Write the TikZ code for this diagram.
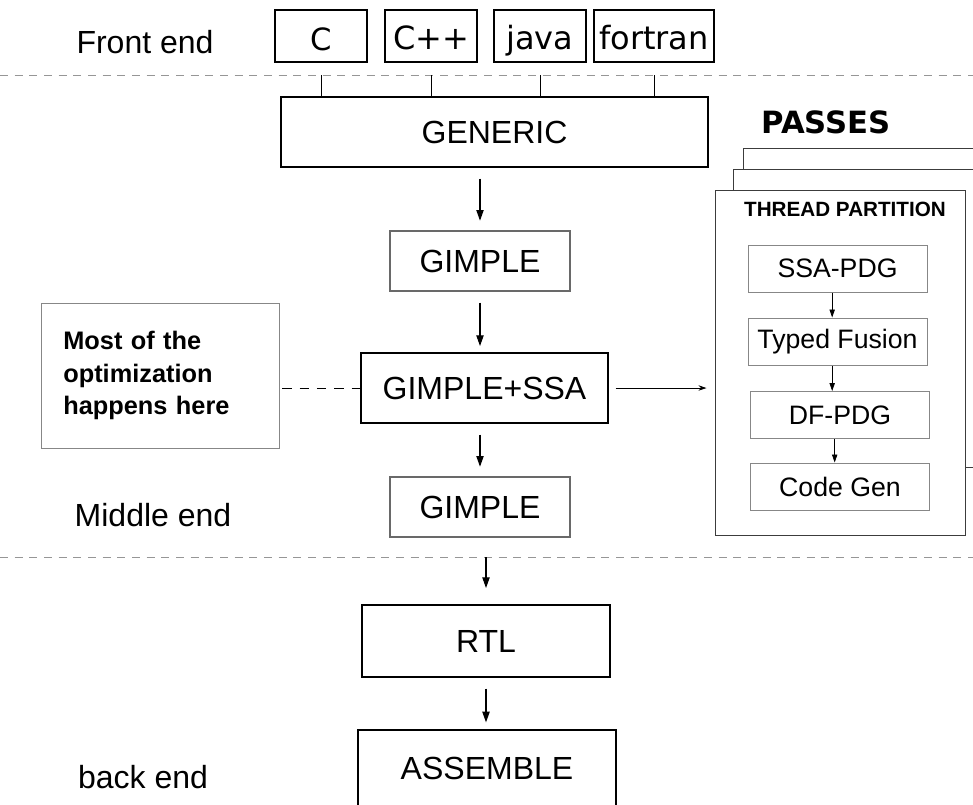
\documentclass[tikz,border=0pt]{standalone}
\usepackage{fontspec}
\setmainfont{Liberation Sans}
\newfontfamily\djvfont{DejaVu Sans}
\usetikzlibrary{arrows.meta,positioning}

\definecolor{sepgray}{RGB}{150,150,150}
\definecolor{boxgray}{RGB}{105,105,105}
\definecolor{notegray}{RGB}{135,135,135}
\definecolor{stackgray}{RGB}{60,60,60}

\tikzset{
  lang/.style={draw, line width=1.5pt, minimum width=69pt, minimum height=39pt,
    inner sep=1pt, text height=20pt, text depth=0pt,
    font=\djvfont\fontsize{24}{28}\selectfont},
  stage/.style={draw, line width=1.5pt, minimum width=#1, minimum height=52.5pt,
    font=\fontsize{24}{28}\selectfont},
  gstage/.style={draw=boxgray, line width=1.5pt, minimum width=135pt, minimum height=45pt,
    font=\fontsize{24}{28}\selectfont},
  note/.style={draw=notegray, line width=0.75pt, minimum width=178.5pt, minimum height=108.75pt,
    text width=145pt, align=left, inner xsep=16.5pt,
    font=\bfseries\fontsize{19}{24.5}\selectfont},
  phase/.style={draw=notegray, line width=0.75pt, minimum width=134.25pt, minimum height=35.25pt,
    font=\fontsize{20}{24}\selectfont},
  endlabel/.style={font=\fontsize{24}{28}\selectfont},
  sep/.style={draw=sepgray, line width=0.75pt, dash pattern=on 6pt off 5pt},
  flow/.style={-{Triangle[length=8pt,width=5.5pt]}, line width=0.8pt,
    shorten <=8pt, shorten >=7pt},
  inner/.style={-{Triangle[length=6pt,width=4pt]}, line width=0.6pt},
  stack/.style={draw=stackgray, line width=0.75pt, fill=white}
}

\begin{document}
\begin{tikzpicture}[x=0.75pt,y=-0.75pt]
\useasboundingbox (0,0) rectangle (973,804);

% separators between the three ends
\coordinate (fe) at (0,75);
\coordinate (be) at (0,557);
\draw[sep] (fe) -- (973,75);
\draw[sep] (be) -- (973,557);

\path (145,42)  node[endlabel] (front) {Front end};
\path (153,515) node[endlabel] (middle) {Middle end};
\path (143,777) node[endlabel] (back) {back end};

% front end languages
\path (321,36) node[lang,font=\djvfont\fontsize{23}{26}\selectfont,text height=22pt] (C) {C};
\path (431,36) node[lang] (Cpp) {C++};
\path (540,36) node[lang] (java) {java};
\path (654,36) node[lang,minimum width=90pt] (fortran) {fortran};

% main pipeline
\path (494.5,132) node[stage=320.25pt] (generic) {GENERIC};
\path (480,261)   node[gstage] (gimple1) {GIMPLE};
\path (484.5,388) node[stage=185.25pt] (ssa) {GIMPLE+SSA};
\path (480,507)   node[gstage] (gimple2) {GIMPLE};
\path (486,641)   node[stage=186pt,minimum height=54pt] (rtl) {RTL};
\path (487,768)   node[stage=193.5pt,minimum height=57pt] (asm) {ASSEMBLE};

\foreach \l in {C,Cpp,java,fortran}
  \draw[line width=0.75pt] (\l.south |- fe) -- (\l.south |- generic.north);

\draw[flow] (gimple1.north |- generic.south) -- (gimple1.north);
\draw[flow,shorten >=4.5pt] (gimple1.south) -- (gimple1.south |- ssa.north);
\draw[flow] (gimple2.north |- ssa.south) -- (gimple2.north);
\draw[flow,shorten <=0pt,shorten >=12pt] (rtl.north |- be) -- (rtl.north);
\draw[flow,shorten >=5pt] (rtl.south) -- (rtl.south |- asm.north);

% optimization note
\path (160,375.5) node[note] (note) {Most of the\\optimization\\happens here};
\draw[line width=0.75pt, dash pattern=on 7pt off 6pt, shorten <=2pt] (note.east |- ssa.west) -- (ssa.west);

% passes
\path (826,122) node[font=\djvfont\bfseries\fontsize{23}{26}\selectfont] (passes) {PASSES};
\draw[stack] (743,148) rectangle (1000,467);
\draw[stack] (733,169) rectangle (1000,467);
\path (840,362.5) node[stack, minimum width=187.5pt, minimum height=258.75pt] (thread) {};
\path (845,209) node[font=\bfseries\fontsize{15.5}{18}\selectfont] (threadlbl) {THREAD PARTITION};

\draw[-{Stealth[length=6pt,width=4pt]}, line width=0.6pt, shorten <=5pt, shorten >=6pt]
  (ssa.east) -- (ssa.east -| thread.west);

\path (837.5,268.5) node[phase] (ssapdg) {SSA-PDG};
\path (837.5,341.5) node[phase] (fusion) {Typed Fusion};
\path (840,415)     node[phase] (dfpdg) {DF-PDG};
\path (840,486.5)   node[phase] (codegen) {Code Gen};

\foreach \a/\b in {ssapdg/fusion,fusion/dfpdg,dfpdg/codegen}
  \draw[inner] ([xshift=-4pt]\a.south) -- ([xshift=-4pt]\a.south |- \b.north);

\end{tikzpicture}
\end{document}
